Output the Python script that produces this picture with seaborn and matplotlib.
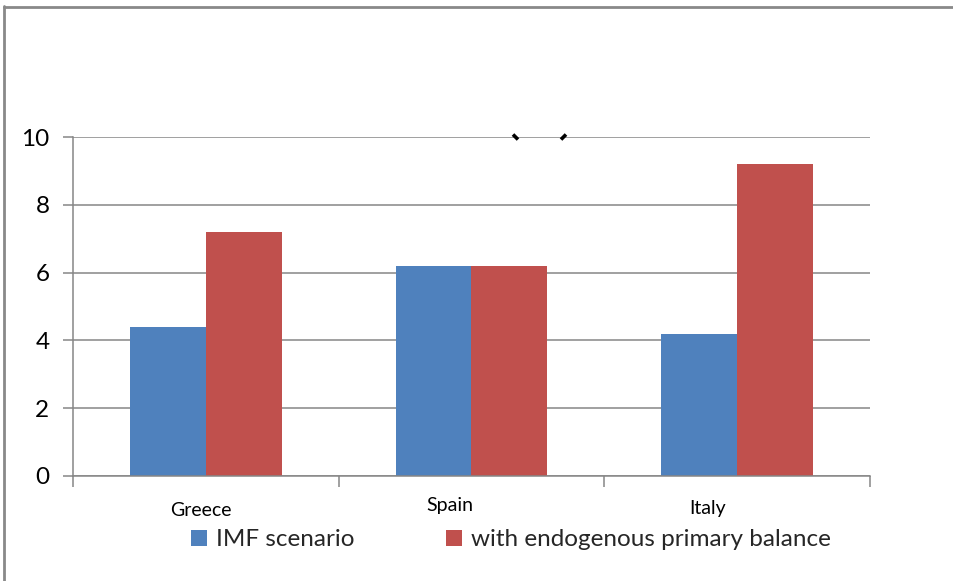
import matplotlib
matplotlib.use("Agg")
import matplotlib.pyplot as plt
import matplotlib.transforms as mtransforms
from matplotlib.lines import Line2D
from matplotlib.patches import Patch
import seaborn as sns
import pandas as pd

countries = ["Greece", "Spain", "Italy"]
series_names = ["IMF scenario", "with endogenous primary balance"]
imf_values = [4.4, 6.2, 4.2]
endogenous_values = [7.2, 6.2, 9.2]
y_ticks = [0, 2, 4, 6, 8, 10]
colors = ["#4F81BD", "#C0504D"]

df = pd.DataFrame({
    "country": countries * 2,
    "series": [series_names[0]] * 3 + [series_names[1]] * 3,
    "value": imf_values + endogenous_values,
})

sns.set_theme(style="white")
plt.rcParams["font.family"] = ["Lato", "DejaVu Sans"]

fig = plt.figure(figsize=(9.54, 5.81), dpi=100)
ax = fig.add_axes([73 / 954, 1 - 476 / 581, (870 - 73) / 954, (476 - 137) / 581])

sns.barplot(data=df, x="country", y="value", hue="series", palette=colors,
            width=0.572, saturation=1, ax=ax, legend=False, linewidth=0)

ax.set_ylim(0, 10)
ax.set_xlim(-0.5, 2.5)
ax.set_yticks(y_ticks)
ax.set_yticklabels([str(v) for v in y_ticks], fontsize=17.5, color="#000000")
ax.grid(axis="y", color="#868686", linewidth=1.1)
ax.set_axisbelow(True)
ax.set_xlabel("")
ax.set_ylabel("")

for side in ["top", "right"]:
    ax.spines[side].set_visible(False)
for side in ["left", "bottom"]:
    ax.spines[side].set_color("#868686")
    ax.spines[side].set_linewidth(1.1)

ax.tick_params(axis="y", which="major", direction="out", length=7, width=1.1,
               color="#868686", pad=10, left=True)

# category boundary ticks on x, labels at centres
ax.set_xticks([-0.5, 0.5, 1.5, 2.5], minor=True)
ax.tick_params(axis="x", which="minor", direction="out", length=8, width=1.1,
               color="#868686", bottom=True)
ax.tick_params(axis="x", which="major", length=0, pad=15.5)
ax.set_xticks(range(len(countries)))
ax.set_xticklabels(countries, fontsize=14, color="#000000")
label_shifts = [(-5, -4), (-22, 1), (-30, -2)]
for lab, (dx, dy) in zip(ax.get_xticklabels(), label_shifts):
    lab.set_transform(lab.get_transform() +
                      mtransforms.ScaledTranslation(dx / 100, dy / 100, fig.dpi_scale_trans))

handles = [Patch(facecolor=c, edgecolor="none") for c in colors]
fig.legend(handles, series_names, loc="center", bbox_to_anchor=(511 / 954, 1 - 540 / 581),
           ncol=2, frameon=False, fontsize=17.5, handlelength=0.65, handleheight=0.65,
           handletextpad=0.35, columnspacing=3.8)

# clipped parentheses remnants above the plot
fig.add_artist(Line2D([513 / 954, 518 / 954], [1 - 134.5 / 581, 1 - 139.5 / 581],
                      color="black", linewidth=2.6, solid_capstyle="butt"))
fig.add_artist(Line2D([566 / 954, 561 / 954], [1 - 134.5 / 581, 1 - 139.5 / 581],
                      color="black", linewidth=2.6, solid_capstyle="butt"))

# outer frame (left and top edges)
fig.add_artist(Line2D([4.5 / 954, 4.5 / 954], [0, 1 - 6 / 581], color="#898989", linewidth=2))
fig.add_artist(Line2D([4.5 / 954, 1], [1 - 6.5 / 581, 1 - 6.5 / 581], color="#898989", linewidth=2))

fig.savefig("out.png", dpi=100)
